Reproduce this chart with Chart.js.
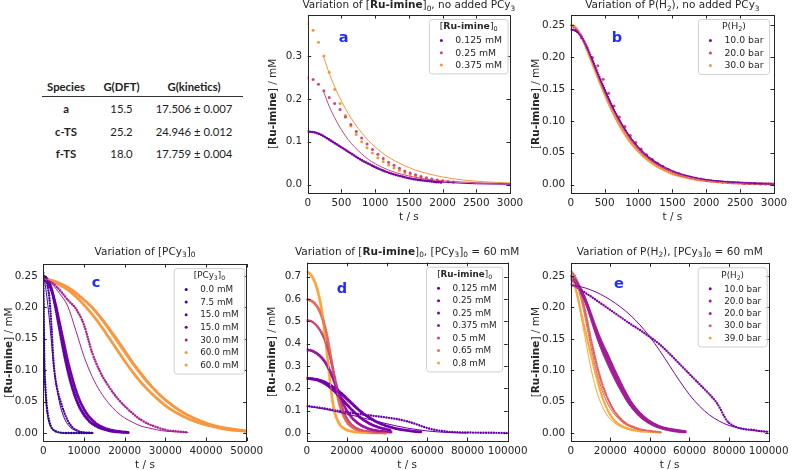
<!DOCTYPE html>
<html lang="en">
<head>
<meta charset="UTF-8">
<title>Ru-imine kinetics</title>
<script src="https://cdn.jsdelivr.net/npm/chart.js"></script>
<style>
  body { margin: 0; background: #fff; width: 793px; height: 470px; position: relative; overflow: hidden; }
  canvas { position: absolute; }
  #tbl { position: absolute; left: 42px; top: 76px; border-collapse: collapse; font-family: Lato, sans-serif; font-size: 11.3px; color: #222; }
  #tbl td, #tbl th { padding: 0; text-align: center; }
  #tbl th { height: 20px; font-weight: bold; border-bottom: 1.3px solid #333; }
  #tbl tr.r1 td { height: 23px; }
  #tbl tr.r2 td, #tbl tr.r3 td { height: 22px; }
  #tbl .c1 { width: 48px; font-weight: bold; }
  #tbl .c2 { width: 63px; }
  #tbl .c3 { width: 82px; padding-right: 8px; }
</style>
</head>
<body>
<table id="tbl">
  <tr><th class="c1">Species</th><th class="c2">G(DFT)</th><th class="c3">G(kinetics)</th></tr>
  <tr class="r1"><td class="c1">a</td><td class="c2">15.5</td><td class="c3">17.506 ± 0.007</td></tr>
  <tr class="r2"><td class="c1">c-TS</td><td class="c2">25.2</td><td class="c3">24.946 ± 0.012</td></tr>
  <tr class="r3"><td class="c1">f-TS</td><td class="c2">18.0</td><td class="c3">17.759 ± 0.004</td></tr>
</table>
<canvas id="pa" width="285" height="230" style="left:255px;top:0px"></canvas>
<canvas id="pb" width="268" height="230" style="left:525px;top:0px"></canvas>
<canvas id="pc" width="270" height="230" style="left:0px;top:240px"></canvas>
<canvas id="pd" width="270" height="230" style="left:262px;top:240px"></canvas>
<canvas id="pe" width="268" height="230" style="left:525px;top:240px"></canvas>
<script>
// ---- panel a : [Ru-imine]0, no PCy3 ----
const a_dots_0125 = [[0,0.124],[100,0.122],[200,0.116],[300,0.107],[400,0.097],[500,0.087],[600,0.077],[700,0.067],[800,0.057],[900,0.049],[1000,0.041],[1100,0.034],[1200,0.028],[1300,0.023],[1400,0.019],[1500,0.015],[1600,0.012],[1700,0.010],[1800,0.008],[1900,0.006],[2000,0.005]];
const a_dots_025 = [[0,0.249],[80,0.245],[160,0.234],[240,0.219],[320,0.203],[400,0.189],[480,0.175],[560,0.158],[640,0.140],[720,0.124],[800,0.109],[880,0.095],[960,0.082],[1040,0.071],[1120,0.061],[1200,0.052],[1280,0.045],[1360,0.038],[1440,0.032],[1520,0.027],[1600,0.023],[1680,0.019],[1760,0.016],[1840,0.013],[1920,0.011],[2000,0.009],[2080,0.007],[2160,0.006]];
const a_dots_0375 = [[0,0.375],[80,0.360],[160,0.332],[240,0.300],[320,0.262],[400,0.222],[480,0.189],[560,0.161],[640,0.137],[720,0.117],[800,0.100],[880,0.086],[960,0.074],[1040,0.063],[1120,0.054],[1200,0.046],[1280,0.039],[1360,0.033],[1440,0.028],[1520,0.024],[1600,0.020],[1680,0.017],[1760,0.014],[1840,0.012],[1920,0.010],[2000,0.008],[2080,0.007],[2160,0.006]];
const a_fit_0125 = [[0,0.125],[200,0.117],[400,0.097],[600,0.077],[800,0.057],[1000,0.041],[1200,0.028],[1400,0.019],[1600,0.013],[1800,0.009],[2000,0.006],[2500,0.002],[3000,0.001]];
const a_fit_025 = [[232,0.219],[300,0.190],[400,0.156],[500,0.128],[600,0.105],[700,0.087],[800,0.072],[900,0.059],[1000,0.049],[1200,0.034],[1400,0.024],[1600,0.017],[1800,0.012],[2000,0.009],[2300,0.006],[2600,0.004],[3000,0.002]];
const a_fit_0375 = [[232,0.300],[300,0.268],[400,0.228],[500,0.195],[600,0.166],[700,0.142],[800,0.121],[900,0.103],[1000,0.088],[1200,0.064],[1400,0.047],[1600,0.034],[1800,0.025],[2000,0.018],[2300,0.011],[2600,0.007],[3000,0.004]];

// ---- panel b : P(H2), no PCy3 ----
const b_dots_10 = [[0,0.243],[50,0.242],[100,0.239],[150,0.233],[200,0.224],[300,0.200],[400,0.174],[500,0.149],[600,0.125],[700,0.104],[800,0.086],[900,0.070],[1000,0.057],[1100,0.046],[1200,0.038],[1300,0.031],[1400,0.025],[1500,0.020],[1600,0.016],[1800,0.011],[2000,0.007],[2200,0.005],[2500,0.003],[3000,0.001]];
const b_dots_20 = [[0,0.250],[80,0.243],[160,0.230],[240,0.214],[320,0.199],[400,0.186],[480,0.165],[560,0.143],[640,0.123],[720,0.106],[800,0.091],[880,0.077],[960,0.066],[1040,0.056],[1120,0.047],[1200,0.040],[1280,0.034],[1360,0.029],[1440,0.024],[1520,0.020],[1600,0.017],[1680,0.014],[1760,0.012],[1840,0.010],[1920,0.009],[2000,0.007],[2080,0.006],[2160,0.005],[2240,0.004],[2320,0.004],[2400,0.003],[2480,0.003],[2560,0.002],[2640,0.002],[2720,0.002],[2800,0.001],[2880,0.001],[2960,0.001]];
const b_dots_30 = [[0,0.250],[50,0.248],[100,0.242],[150,0.234],[200,0.222],[300,0.195],[400,0.168],[500,0.142],[600,0.118],[700,0.097],[800,0.079],[900,0.064],[1000,0.052],[1100,0.042],[1200,0.034],[1300,0.027],[1400,0.022],[1500,0.017],[1600,0.014],[1800,0.009],[2000,0.006],[2200,0.004],[2500,0.002],[3000,0.001]];
const b_fit_10 = [[0,0.243],[100,0.239],[200,0.223],[300,0.199],[400,0.173],[500,0.148],[600,0.125],[700,0.105],[800,0.087],[900,0.072],[1000,0.059],[1200,0.040],[1400,0.027],[1600,0.018],[1800,0.012],[2000,0.008],[2500,0.003],[3000,0.001]];
const b_fit_20 = [[0,0.248],[100,0.242],[200,0.224],[300,0.198],[400,0.171],[500,0.145],[600,0.122],[700,0.102],[800,0.084],[900,0.069],[1000,0.056],[1200,0.037],[1400,0.025],[1600,0.016],[1800,0.011],[2000,0.007],[2500,0.003],[3000,0.001]];
const b_fit_30 = [[0,0.249],[100,0.243],[200,0.223],[300,0.196],[400,0.169],[500,0.143],[600,0.120],[700,0.099],[800,0.081],[900,0.066],[1000,0.054],[1200,0.035],[1400,0.023],[1600,0.015],[1800,0.010],[2000,0.006],[2500,0.002],[3000,0.001]];

// ---- panel c : [PCy3]0 ----
const c_dots_0 = [[0,0.255],[100,0.20],[200,0.14],[300,0.10],[500,0.075],[700,0.055],[900,0.04],[1200,0.027],[1500,0.018],[2000,0.009],[2500,0.005],[3000,0.003],[4000,0.001],[6000,0],[8000,0],[10000,0],[12300,0]];
const c_fit_0 = [[0,0.25],[100,0.2],[200,0.15],[300,0.11],[500,0.07],[700,0.048],[1000,0.03],[1500,0.015],[2000,0.008],[3000,0.002],[5000,0],[12300,0]];
const c_dots_75 = [[0,0.25],[500,0.245],[1000,0.235],[1500,0.215],[2000,0.17],[2500,0.115],[3000,0.085],[3500,0.068],[4000,0.055],[4500,0.045],[5000,0.035],[6000,0.02],[7000,0.01],[8000,0.005],[9000,0.002],[10000,0.001],[12300,0]];
const c_fit_75 = [[0,0.25],[500,0.235],[1000,0.21],[1500,0.18],[2000,0.145],[2500,0.11],[3000,0.085],[3500,0.065],[4000,0.048],[5000,0.026],[6000,0.014],[7000,0.007],[8000,0.004],[10000,0.001],[12300,0]];
const c_dots_15a = [[0,0.25],[1000,0.245],[2000,0.23],[3000,0.20],[4000,0.165],[5000,0.13],[6000,0.10],[7000,0.075],[8000,0.055],[9000,0.04],[10000,0.029],[11000,0.021],[12000,0.015],[13000,0.011],[14000,0.008],[15000,0.006],[16000,0.004],[18000,0.002],[20900,0.001]];
const c_fit_15a = [[0,0.25],[1000,0.243],[2000,0.226],[3000,0.198],[4000,0.164],[5000,0.13],[6000,0.1],[7000,0.076],[8000,0.057],[9000,0.042],[10000,0.031],[12000,0.016],[14000,0.009],[16000,0.005],[18000,0.003],[20900,0.001]];
const c_dots_15b = [[0,0.245],[1000,0.24],[2000,0.228],[3000,0.205],[4000,0.175],[5000,0.145],[6000,0.115],[7000,0.09],[8000,0.068],[9000,0.051],[10000,0.038],[11000,0.028],[12000,0.021],[13000,0.015],[14000,0.011],[15000,0.008],[16000,0.006],[18000,0.003],[20900,0.001]];
const c_fit_15b = [[0,0.245],[1000,0.239],[2000,0.224],[3000,0.2],[4000,0.17],[5000,0.14],[6000,0.112],[7000,0.087],[8000,0.066],[9000,0.05],[10000,0.037],[12000,0.02],[14000,0.011],[16000,0.006],[18000,0.003],[20900,0.001]];
const c_dots_30 = [[0,0.245],[2000,0.24],[4000,0.228],[6000,0.212],[8000,0.198],[10000,0.172],[12000,0.128],[14000,0.097],[16000,0.075],[18000,0.057],[20000,0.043],[22000,0.031],[24000,0.021],[26000,0.014],[28000,0.009],[30000,0.005],[32000,0.003],[35650,0.001]];
const c_fit_30 = [[0,0.245],[2000,0.238],[4000,0.222],[6000,0.202],[8000,0.163],[10000,0.122],[12000,0.09],[14000,0.066],[16000,0.048],[18000,0.034],[20000,0.024],[22000,0.017],[24000,0.011],[26000,0.008],[28000,0.005],[30000,0.003],[35650,0.001]];
const c_dots_60a = [[0,0.245],[2000,0.243],[4000,0.238],[6000,0.232],[8000,0.223],[10000,0.212],[12000,0.200],[14000,0.185],[16000,0.168],[18000,0.15],[20000,0.131],[22000,0.112],[24000,0.095],[26000,0.079],[28000,0.065],[30000,0.053],[32000,0.043],[34000,0.034],[36000,0.027],[38000,0.021],[40000,0.016],[42000,0.012],[44000,0.009],[46000,0.007],[48000,0.005],[50000,0.003]];
const c_dots_60b = [[0,0.245],[2000,0.242],[4000,0.236],[6000,0.228],[8000,0.217],[10000,0.204],[12000,0.189],[14000,0.172],[16000,0.153],[18000,0.134],[20000,0.115],[22000,0.097],[24000,0.081],[26000,0.067],[28000,0.055],[30000,0.044],[32000,0.035],[34000,0.028],[36000,0.022],[38000,0.017],[40000,0.013],[42000,0.010],[44000,0.007],[46000,0.005],[48000,0.004],[50000,0.003]];
const c_fit_60a = [[0,0.245],[2000,0.244],[4000,0.24],[6000,0.233],[8000,0.224],[10000,0.212],[12000,0.198],[14000,0.182],[16000,0.164],[18000,0.145],[20000,0.126],[22000,0.108],[24000,0.091],[26000,0.076],[28000,0.063],[30000,0.051],[32000,0.041],[34000,0.033],[36000,0.026],[38000,0.02],[40000,0.016],[42000,0.012],[44000,0.009],[46000,0.007],[48000,0.005],[50000,0.004]];
const c_fit_60b = [[0,0.245],[2000,0.243],[4000,0.238],[6000,0.23],[8000,0.219],[10000,0.205],[12000,0.189],[14000,0.171],[16000,0.152],[18000,0.132],[20000,0.113],[22000,0.095],[24000,0.079],[26000,0.065],[28000,0.053],[30000,0.042],[32000,0.034],[34000,0.027],[36000,0.021],[38000,0.016],[40000,0.012],[42000,0.009],[44000,0.007],[46000,0.005],[48000,0.004],[50000,0.003]];

// ---- panel d : [Ru-imine]0, [PCy3]0 = 60 mM ----
const d_dots_0125 = [[0,0.121],[5000,0.115],[10000,0.108],[15000,0.100],[20000,0.093],[25000,0.086],[30000,0.080],[35000,0.075],[40000,0.069],[45000,0.062],[50000,0.052],[55000,0.038],[60000,0.022],[65000,0.012],[70000,0.006],[75000,0.003],[80000,0.002],[90000,0.001],[100000,0]];
const d_fit_0125 = [[0,0.12],[5000,0.113],[10000,0.105],[15000,0.095],[20000,0.085],[25000,0.074],[30000,0.063],[35000,0.052],[40000,0.041],[45000,0.031],[50000,0.022],[55000,0.015],[60000,0.009],[65000,0.005],[70000,0.002],[75000,0.001],[80000,0]];
const d_dots_025a = [[0,0.245],[3000,0.243],[6000,0.238],[9000,0.228],[12000,0.213],[15000,0.195],[18000,0.172],[21000,0.146],[24000,0.12],[27000,0.096],[30000,0.076],[33000,0.059],[36000,0.045],[39000,0.034],[42000,0.026],[45000,0.019],[48000,0.014],[51000,0.010],[54000,0.007],[57500,0.005]];
const d_fit_025a = [[0,0.245],[3000,0.243],[6000,0.236],[9000,0.224],[12000,0.207],[15000,0.186],[18000,0.162],[21000,0.137],[24000,0.113],[27000,0.091],[30000,0.072],[33000,0.056],[36000,0.043],[39000,0.033],[42000,0.025],[45000,0.019],[48000,0.014],[51000,0.010],[54000,0.007],[57500,0.005]];
const d_dots_025b = [[0,0.245],[3000,0.242],[6000,0.235],[9000,0.222],[12000,0.203],[15000,0.178],[18000,0.148],[21000,0.118],[24000,0.09],[27000,0.067],[30000,0.049],[33000,0.035],[36000,0.025],[39000,0.018],[42000,0.012]];
const d_fit_025b = [[0,0.245],[3000,0.241],[6000,0.232],[9000,0.217],[12000,0.196],[15000,0.170],[18000,0.141],[21000,0.112],[24000,0.086],[27000,0.064],[30000,0.047],[33000,0.034],[36000,0.024],[39000,0.017],[42000,0.012]];
const d_dots_0375 = [[0,0.372],[2000,0.37],[4000,0.362],[6000,0.35],[8000,0.332],[10000,0.306],[12000,0.27],[14000,0.225],[16000,0.178],[18000,0.135],[20000,0.1],[22000,0.074],[24000,0.055],[26000,0.041],[28000,0.030],[30000,0.022],[33000,0.014],[36000,0.009],[39000,0.006],[42000,0.004]];
const d_fit_0375 = [[0,0.372],[2000,0.369],[4000,0.36],[6000,0.346],[8000,0.326],[10000,0.298],[12000,0.262],[14000,0.219],[16000,0.175],[18000,0.135],[20000,0.102],[22000,0.076],[24000,0.056],[26000,0.041],[28000,0.03],[30000,0.022],[33000,0.014],[36000,0.009],[39000,0.006],[42000,0.004]];
const d_dots_05 = [[0,0.505],[2000,0.502],[4000,0.49],[6000,0.47],[8000,0.44],[10000,0.395],[12000,0.33],[14000,0.25],[16000,0.17],[18000,0.105],[20000,0.065],[22000,0.04],[24000,0.025],[26000,0.016],[28000,0.01],[30000,0.007],[33000,0.004],[36000,0.002],[40000,0.001]];
const d_fit_05 = [[0,0.505],[2000,0.5],[4000,0.486],[6000,0.463],[8000,0.43],[10000,0.383],[12000,0.32],[14000,0.245],[16000,0.17],[18000,0.11],[20000,0.07],[22000,0.044],[24000,0.028],[26000,0.018],[28000,0.012],[30000,0.008],[33000,0.004],[36000,0.002],[40000,0.001]];
const d_dots_065 = [[0,0.598],[2000,0.594],[4000,0.58],[6000,0.555],[8000,0.51],[10000,0.44],[12000,0.34],[14000,0.23],[16000,0.14],[18000,0.085],[20000,0.05],[22000,0.03],[24000,0.019],[26000,0.012],[28000,0.008],[30000,0.005],[33000,0.003],[36000,0.002],[40000,0.001]];
const d_fit_065 = [[0,0.598],[2000,0.592],[4000,0.576],[6000,0.548],[8000,0.503],[10000,0.435],[12000,0.34],[14000,0.235],[16000,0.148],[18000,0.09],[20000,0.054],[22000,0.033],[24000,0.02],[26000,0.013],[28000,0.008],[30000,0.005],[33000,0.003],[36000,0.002],[40000,0.001]];
const d_dots_08 = [[0,0.722],[1000,0.718],[2000,0.71],[3000,0.697],[4000,0.678],[5000,0.652],[6000,0.618],[7000,0.575],[8000,0.515],[9000,0.445],[10000,0.365],[11000,0.28],[12000,0.2],[13000,0.135],[14000,0.09],[16000,0.045],[18000,0.024],[20000,0.014],[22000,0.008],[25000,0.004],[30000,0.002],[35000,0.001],[40000,0]];
const d_fit_08 = [[0,0.722],[1000,0.717],[2000,0.708],[3000,0.694],[4000,0.674],[5000,0.647],[6000,0.612],[7000,0.567],[8000,0.508],[9000,0.438],[10000,0.36],[11000,0.28],[12000,0.205],[13000,0.143],[14000,0.097],[16000,0.048],[18000,0.025],[20000,0.014],[22000,0.008],[25000,0.004],[30000,0.002],[35000,0.001],[40000,0]];

// ---- panel e : P(H2), [PCy3]0 = 60 mM ----
const e_dots_10 = [[0,0.237],[3000,0.232],[8000,0.222],[15000,0.207],[20000,0.196],[25000,0.185],[30000,0.174],[35000,0.164],[40000,0.153],[45000,0.141],[50000,0.126],[55000,0.11],[60000,0.094],[65000,0.078],[70000,0.062],[74000,0.047],[76000,0.036],[78000,0.024],[80000,0.016],[84000,0.009],[88000,0.006],[92000,0.005],[96000,0.003],[100000,0.002]];
const e_fit_10 = [[0,0.235],[5000,0.233],[10000,0.228],[15000,0.221],[20000,0.212],[25000,0.201],[30000,0.188],[35000,0.172],[40000,0.153],[45000,0.131],[50000,0.107],[55000,0.083],[60000,0.061],[65000,0.043],[70000,0.029],[75000,0.019],[80000,0.012],[85000,0.008],[90000,0.005],[95000,0.003],[100000,0.002]];
const e_dots_20a = [[0,0.245],[2000,0.24],[4000,0.232],[6000,0.221],[8000,0.207],[10000,0.19],[12000,0.172],[14000,0.156],[16000,0.141],[18000,0.128],[20000,0.114],[22000,0.1],[24000,0.087],[26000,0.074],[28000,0.062],[30000,0.051],[33000,0.038],[36000,0.028],[40000,0.018],[45000,0.01],[50000,0.006],[54000,0.004],[58000,0.002]];
const e_dots_20b = [[0,0.25],[2000,0.244],[4000,0.235],[6000,0.222],[8000,0.206],[10000,0.187],[12000,0.167],[14000,0.149],[16000,0.133],[18000,0.119],[20000,0.105],[22000,0.092],[24000,0.079],[26000,0.067],[28000,0.056],[30000,0.046],[33000,0.034],[36000,0.025],[40000,0.016],[45000,0.009],[50000,0.005],[54000,0.003],[58000,0.002]];
const e_fit_20a = [[0,0.245],[2000,0.241],[4000,0.233],[6000,0.221],[8000,0.205],[10000,0.187],[12000,0.168],[14000,0.15],[16000,0.134],[18000,0.119],[20000,0.105],[22000,0.091],[24000,0.078],[26000,0.066],[28000,0.055],[30000,0.045],[33000,0.033],[36000,0.024],[40000,0.015],[45000,0.009],[50000,0.005],[54000,0.003],[58000,0.002]];
const e_fit_20b = [[0,0.25],[2000,0.245],[4000,0.236],[6000,0.222],[8000,0.204],[10000,0.184],[12000,0.164],[14000,0.145],[16000,0.128],[18000,0.113],[20000,0.099],[22000,0.086],[24000,0.074],[26000,0.063],[28000,0.052],[30000,0.043],[33000,0.032],[36000,0.023],[40000,0.015],[45000,0.008],[50000,0.005],[54000,0.003],[58000,0.002]];
const e_dots_30 = [[0,0.258],[2000,0.25],[4000,0.235],[6000,0.212],[8000,0.183],[10000,0.152],[12000,0.124],[14000,0.098],[16000,0.077],[18000,0.06],[20000,0.046],[22000,0.035],[25000,0.023],[28000,0.015],[32000,0.009],[36000,0.005],[40000,0.003],[46000,0.001]];
const e_fit_30 = [[0,0.255],[2000,0.245],[4000,0.227],[6000,0.202],[8000,0.172],[10000,0.141],[12000,0.112],[14000,0.087],[16000,0.067],[18000,0.051],[20000,0.039],[22000,0.03],[25000,0.02],[28000,0.013],[32000,0.008],[36000,0.005],[40000,0.003],[46000,0.001]];
const e_dots_39 = [[0,0.25],[1000,0.245],[2000,0.236],[3000,0.224],[4000,0.21],[5000,0.195],[6000,0.18],[7000,0.167],[8000,0.155],[9000,0.141],[10000,0.128],[11000,0.115],[12000,0.102],[13000,0.09],[14000,0.078],[16000,0.057],[18000,0.041],[20000,0.029],[23000,0.017],[26000,0.011],[30000,0.006],[35000,0.003],[40000,0.002],[46000,0.001]];
const e_fit_39 = [[0,0.25],[1000,0.244],[2000,0.234],[3000,0.221],[4000,0.206],[5000,0.19],[6000,0.173],[7000,0.156],[8000,0.139],[9000,0.122],[10000,0.106],[11000,0.092],[12000,0.079],[14000,0.058],[16000,0.042],[18000,0.03],[20000,0.022],[23000,0.014],[26000,0.009],[30000,0.005],[35000,0.003],[40000,0.002],[46000,0.001]];

// tick values
const ticks3000 = [0, 500, 1000, 1500, 2000, 2500, 3000];
const ticks50k = [0, 10000, 20000, 30000, 40000, 50000];
const ticks100k = [0, 20000, 40000, 60000, 80000, 100000];
const yTicksA = [0, 0.1, 0.2, 0.3];
const yTicks025 = [0, 0.05, 0.1, 0.15, 0.2, 0.25];
const yTicksD = [0, 0.1, 0.2, 0.3, 0.4, 0.5, 0.6, 0.7];

// legend labels
const legA = ['0.125 mM', '0.25 mM', '0.375 mM'];
const legB = ['10.0 bar', '20.0 bar', '30.0 bar'];
const legC = ['0.0 mM', '7.5 mM', '15.0 mM', '15.0 mM', '30.0 mM', '60.0 mM', '60.0 mM'];
const legD = ['0.125 mM', '0.25 mM', '0.25 mM', '0.375 mM', '0.5 mM', '0.65 mM', '0.8 mM'];
const legE = ['10.0 bar', '20.0 bar', '20.0 bar', '30.0 bar', '39.0 bar'];

const FONT = '"DejaVu Sans", sans-serif';
const INK = '#262626';
const TFS = 10.5;

const xy = d => d.map(p => ({ x: p[0], y: p[1] }));

// dense runs of markers: a round-capped dash pattern along the data path
const dots = (d, c, w = 2.6, gap = 2.5) => ({
  data: xy(d), showLine: true, borderColor: c, borderWidth: w, borderDash: [0, gap],
  borderCapStyle: 'round', pointRadius: 0, cubicInterpolationMode: 'monotone', order: 2
});
const pts = (d, c) => ({
  data: xy(d), showLine: false, backgroundColor: c, borderWidth: 0, pointRadius: 1.5, order: 2
});
const fit = (d, c) => ({
  data: xy(d), showLine: true, borderColor: c, borderWidth: 1, pointRadius: 0,
  cubicInterpolationMode: 'monotone', order: 1
});

function fontFor(seg, size) {
  const s = seg[1] === 's' ? size * 0.7 : size;
  return (seg[1] === 'b' ? 'bold ' : '') + s + 'px ' + FONT;
}

function drawRich(ctx, segs, x, y, size, rot) {
  ctx.save();
  ctx.translate(x, y);
  if (rot) ctx.rotate(rot);
  let w = 0;
  segs.forEach(sg => { ctx.font = fontFor(sg, size); w += ctx.measureText(sg[0]).width; });
  let cx = -w / 2;
  ctx.textBaseline = 'middle';
  ctx.textAlign = 'left';
  ctx.fillStyle = INK;
  segs.forEach(sg => {
    ctx.font = fontFor(sg, size);
    ctx.fillText(sg[0], cx, sg[1] === 's' ? size * 0.3 : 0);
    cx += ctx.measureText(sg[0]).width;
  });
  ctx.restore();
}

function drawLegend(ctx, area, lg) {
  ctx.save();
  ctx.font = lg.fs + 'px ' + FONT;
  const tw = Math.max(...lg.labels.map(t => ctx.measureText(t).width));
  const w = 26 + tw + 6;
  const h = 21 + (lg.labels.length - 1) * lg.gap + 9;
  const x0 = area.right - lg.inset - w, y0 = area.top + 4.5;
  ctx.beginPath();
  ctx.roundRect(x0, y0, w, h, 3);
  ctx.fillStyle = 'rgba(255,255,255,0.85)';
  ctx.fill();
  ctx.strokeStyle = '#d0d0d0';
  ctx.lineWidth = 1;
  ctx.stroke();
  drawRich(ctx, lg.title, x0 + w / 2, y0 + 7.5, lg.fs);
  lg.labels.forEach((t, i) => {
    const y = y0 + 21 + i * lg.gap;
    ctx.beginPath();
    ctx.arc(x0 + 12, y, 1.5, 0, Math.PI * 2);
    ctx.fillStyle = lg.colors[i];
    ctx.fill();
    ctx.font = lg.fs + 'px ' + FONT;
    ctx.fillStyle = INK;
    ctx.textAlign = 'left';
    ctx.textBaseline = 'middle';
    ctx.fillText(t, x0 + 26, y + 0.5);
  });
  ctx.restore();
}

const yLabel = [['['], ['Ru-imine', 'b'], ['] / mM']];

function framePlugin(spec) {
  return {
    id: 'frame',
    afterDatasetsDraw(chart) {
      const { ctx, chartArea: a, scales } = chart;
      ctx.save();
      ctx.strokeStyle = INK;
      ctx.lineWidth = 1;
      const L = 3.5;
      ctx.beginPath();
      spec.xTicks.forEach(v => {
        const px = Math.round(scales.x.getPixelForValue(v)) + 0.5;
        ctx.moveTo(px, a.bottom); ctx.lineTo(px, a.bottom - L);
        ctx.moveTo(px, a.top); ctx.lineTo(px, a.top + L);
      });
      spec.yTicks.forEach(v => {
        const py = Math.round(scales.y.getPixelForValue(v)) + 0.5;
        ctx.moveTo(a.left, py); ctx.lineTo(a.left + L, py);
        ctx.moveTo(a.right, py); ctx.lineTo(a.right - L, py);
      });
      ctx.stroke();
      ctx.strokeRect(Math.round(a.left) + 0.5, Math.round(a.top) + 0.5,
        Math.round(a.right - a.left), Math.round(a.bottom - a.top));
      ctx.restore();
    },
    afterDraw(chart) {
      const { ctx, chartArea: a } = chart;
      const cx = (a.left + a.right) / 2;
      drawRich(ctx, spec.title, cx, a.top - spec.titleOff, TFS);
      drawRich(ctx, [['t / s']], cx, a.bottom + 24.5, TFS);
      drawRich(ctx, yLabel, a.left - 34, (a.top + a.bottom) / 2, TFS, -Math.PI / 2);
      drawLegend(ctx, a, spec.legend);
      ctx.save();
      ctx.font = 'bold 14.5px ' + FONT;
      ctx.fillStyle = '#1f2dff';
      ctx.textAlign = 'center';
      ctx.textBaseline = 'middle';
      ctx.fillText(spec.letter, a.left + spec.letterPos[0], a.top + spec.letterPos[1]);
      ctx.restore();
    }
  };
}

function panel(id, canvasRect, area, spec) {
  const [cx, cy, cw, ch] = canvasRect;
  const WY = 40, HX = 20;
  const pad = {
    left: area[0] - cx - WY, top: area[1] - cy,
    right: cx + cw - area[2], bottom: cy + ch - area[3] - HX
  };
  const tickFont = { family: FONT, size: 10.4 };
  new Chart(document.getElementById(id), {
    type: 'scatter',
    data: { datasets: spec.datasets },
    options: {
      animation: false, responsive: false, events: [],
      layout: { padding: pad },
      plugins: { legend: { display: false }, tooltip: { enabled: false } },
      scales: {
        x: {
          type: 'linear', min: spec.xMin, max: spec.xMax,
          grid: { display: false, drawTicks: false }, border: { display: false },
          ticks: { font: tickFont, color: INK, padding: 4.5, maxRotation: 0, autoSkip: false, includeBounds: false, callback: v => String(v) },
          afterBuildTicks: s => { s.ticks = spec.xTicks.map(v => ({ value: v })); },
          afterFit: s => { s.height = HX; }
        },
        y: {
          type: 'linear', min: spec.yMin, max: spec.yMax,
          grid: { display: false, drawTicks: false }, border: { display: false },
          ticks: { font: tickFont, color: INK, padding: 5.5, autoSkip: false, includeBounds: false, callback: v => v.toFixed(spec.yDec) },
          afterBuildTicks: s => { s.ticks = spec.yTicks.map(v => ({ value: v })); },
          afterFit: s => { s.width = WY; }
        }
      }
    },
    plugins: [framePlugin(spec)]
  });
}

const colA = ['#7e03a8', '#cc4778', '#f89540'];
panel('pa', [255, 0, 285, 230], [307.7, 15, 510, 192.7], {
  xMin: 0, xMax: 3000, yMin: -0.0187, yMax: 0.3955, xTicks: ticks3000, yTicks: yTicksA, yDec: 1,
  title: [['Variation of ['], ['Ru-imine', 'b'], [']'], ['0', 's'], [', no added PCy'], ['3', 's']],
  titleOff: 9.3, letter: 'a', letterPos: [36, 23.5],
  legend: { title: [['['], ['Ru-imine', 'b'], [']'], ['0', 's']], labels: legA, colors: colA, fs: 9.3, gap: 12.2, inset: 2 },
  datasets: [
    dots(a_dots_0125, colA[0], 2.6, 2.3), pts(a_dots_025, colA[1]), pts(a_dots_0375, colA[2]),
    fit(a_fit_0125, colA[0]), fit(a_fit_025, colA[1]), fit(a_fit_0375, colA[2])
  ]
});

const colB = ['#7e03a8', '#cc4778', '#f89540'];
panel('pb', [525, 0, 268, 230], [570.7, 15, 774, 192.7], {
  xMin: 0, xMax: 3000, yMin: -0.0125, yMax: 0.2656, xTicks: ticks3000, yTicks: yTicks025, yDec: 2,
  title: [['Variation of P(H'], ['2', 's'], ['), no added PCy'], ['3', 's']],
  titleOff: 9.3, letter: 'b', letterPos: [46.3, 23],
  legend: { title: [['P(H'], ['2', 's'], [')']], labels: legB, colors: colB, fs: 9.3, gap: 12.5, inset: 4.5 },
  datasets: [
    dots(b_dots_10, colB[0], 2.6, 2.4), pts(b_dots_20, colB[1]), dots(b_dots_30, colB[2], 2.8, 2.2),
    fit(b_fit_10, colB[0]), fit(b_fit_20, colB[1]), fit(b_fit_30, colB[2])
  ]
});

const colC = ['#2c0594', '#4c02a1', '#6300a7', '#7201a8', '#a82296', '#f89540', '#fa9a3c'];
panel('pc', [0, 240, 270, 230], [43.3, 264, 246.7, 441], {
  xMin: 0, xMax: 50000, yMin: -0.0127, yMax: 0.269, xTicks: ticks50k, yTicks: yTicks025, yDec: 2,
  title: [['Variation of [PCy'], ['3', 's'], [']'], ['0', 's']],
  titleOff: 11.7, letter: 'c', letterPos: [52.7, 19],
  legend: { title: [['[PCy'], ['3', 's'], [']'], ['0', 's']], labels: legC, colors: colC, fs: 8.8, gap: 12.6, inset: 2 },
  datasets: [
    dots(c_dots_0, colC[0], 2.4, 2.6), dots(c_dots_75, colC[1], 2.4, 2.6),
    dots(c_dots_15a, colC[2], 3, 1.8), dots(c_dots_15b, colC[3], 3, 1.8),
    dots(c_dots_30, colC[4], 2.5, 2.6), dots(c_dots_60a, colC[5], 3, 1.8), dots(c_dots_60b, colC[6], 3, 1.8),
    fit(c_fit_0, colC[0]), fit(c_fit_75, colC[1]), fit(c_fit_15a, colC[2]), fit(c_fit_15b, colC[3]),
    fit(c_fit_30, colC[4]), fit(c_fit_60a, colC[5]), fit(c_fit_60b, colC[6])
  ]
});

const colD = ['#6a00a8', '#7401a8', '#7e03a8', '#9c179e', '#cc4778', '#e66c5c', '#fca636'];
panel('pd', [262, 240, 270, 230], [306.7, 262.7, 510, 441], {
  xMin: 0, xMax: 100000, yMin: -0.036, yMax: 0.763, xTicks: ticks100k, yTicks: yTicksD, yDec: 1,
  title: [['Variation of ['], ['Ru-imine', 'b'], [']'], ['0', 's'], [', [PCy'], ['3', 's'], [']'], ['0', 's'], [' = 60 mM']],
  titleOff: 10.4, letter: 'd', letterPos: [35.3, 26.3],
  legend: { title: [['['], ['Ru-imine', 'b'], [']'], ['0', 's']], labels: legD, colors: colD, fs: 8.8, gap: 12.45, inset: 5 },
  datasets: [
    dots(d_dots_0125, colD[0], 2.4, 2.6), dots(d_dots_025a, colD[1], 3, 1.8), dots(d_dots_025b, colD[2], 3, 1.8),
    dots(d_dots_0375, colD[3], 3, 1.8), dots(d_dots_05, colD[4], 2.6, 2.2), dots(d_dots_065, colD[5], 3, 1.8),
    dots(d_dots_08, colD[6], 3, 1.8),
    fit(d_fit_0125, colD[0]), fit(d_fit_025a, colD[1]), fit(d_fit_025b, colD[2]), fit(d_fit_0375, colD[3]),
    fit(d_fit_05, colD[4]), fit(d_fit_065, colD[5]), fit(d_fit_08, colD[6])
  ]
});

const colE = ['#7e03a8', '#a11b9b', '#a82296', '#e16462', '#fca636'];
panel('pe', [525, 240, 268, 230], [570.7, 263.3, 774, 441], {
  xMin: 0, xMax: 100000, yMin: -0.0127, yMax: 0.2702, xTicks: ticks100k, yTicks: yTicks025, yDec: 2,
  title: [['Variation of P(H'], ['2', 's'], ['), [PCy'], ['3', 's'], [']'], ['0', 's'], [' = 60 mM']],
  titleOff: 11, letter: 'e', letterPos: [48.3, 20.7],
  legend: { title: [['P(H'], ['2', 's'], [')']], labels: legE, colors: colE, fs: 8.8, gap: 12.3, inset: 1.5 },
  datasets: [
    dots(e_dots_10, colE[0], 2.4, 2.6), dots(e_dots_20a, colE[1], 3.2, 1.6), dots(e_dots_20b, colE[2], 3.2, 1.6),
    dots(e_dots_30, colE[3], 2.6, 2.2), dots(e_dots_39, colE[4], 2.6, 2.2),
    fit(e_fit_10, colE[0]), fit(e_fit_20a, colE[1]), fit(e_fit_20b, colE[2]), fit(e_fit_30, colE[3]), fit(e_fit_39, colE[4])
  ]
});
</script>
</body>
</html>
